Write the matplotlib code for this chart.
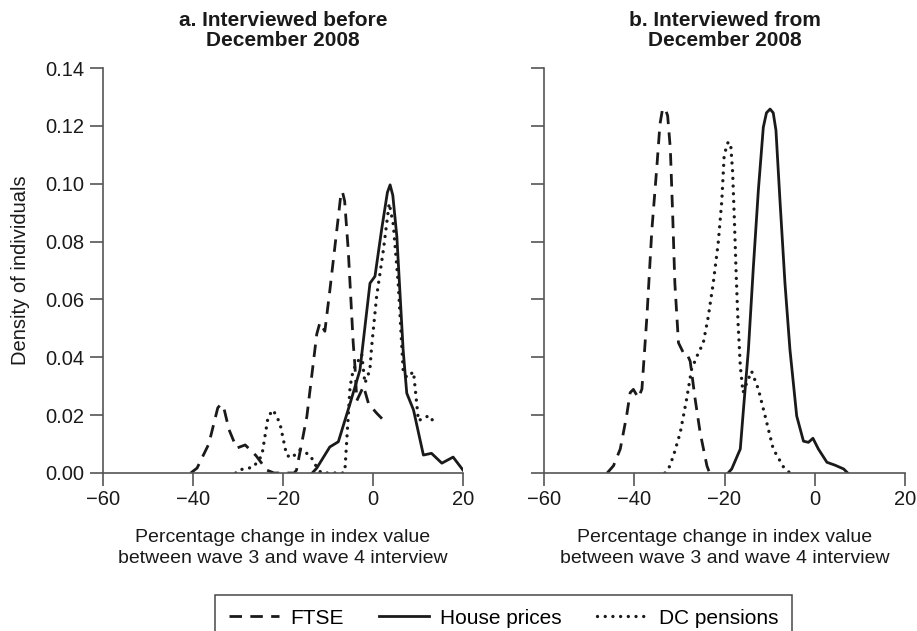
import numpy as np
import matplotlib.pyplot as plt

plt.rcParams['font.family'] = ['Liberation Sans', 'DejaVu Sans']

# ---- panel a: interviewed before December 2008
ftse_a_x = [-40.5, -39.1, -36.5, -34.5, -33.8, -33.1, -32.0, -30.3, -28.4, -26.0,
            -23.6, -22.0, -17.5, -17.0, -14.7, -12.5, -11.8, -10.7, -9.6, -7.7,
            -7.2, -6.8, -6.3, -5.5, -4.4, -4.0, -3.6, -2.1, -1.0, 0.8, 2.5]
ftse_a_y = [0.0, 0.0017, 0.010, 0.0225, 0.0238, 0.0222, 0.015, 0.0086, 0.0097, 0.006,
            0.001, 0.0, 0.0, 0.001, 0.0195, 0.048, 0.052, 0.049, 0.063, 0.0886,
            0.0955, 0.0973, 0.094, 0.077, 0.045, 0.0367, 0.025, 0.030, 0.024, 0.0207, 0.018]

house_a_x = [-13.5, -12.5, -9.6, -7.7, -5.1, -2.9, -0.67, 0.44, 1.9, 3.2,
             3.8, 4.4, 5.3, 6.7, 7.5, 9.0, 11.2, 13.0, 15.3, 17.8, 20.0]
house_a_y = [0.0, 0.0017, 0.009, 0.0108, 0.024, 0.0356, 0.0656, 0.068, 0.084, 0.097,
             0.0996, 0.096, 0.0817, 0.0425, 0.0276, 0.0218, 0.0062, 0.0068, 0.0034, 0.0055, 0.001]

dc_a_x = [-30.5, -30.0, -26.6, -24.7, -23.3, -22.2, -20.7, -19.2, -18.1, -16.2,
          -14.0, -12.5, -11.5, -6.5, -6.2, -5.1, -4.4, -2.5, -1.8, -0.7,
          -0.3, 0.8, 2.3, 3.6, 4.5, 5.6, 6.7, 7.5, 9.0, 10.1,
          11.6, 13.0, 13.4]
dc_a_y = [0.0, 0.001, 0.002, 0.006, 0.0195, 0.0218, 0.0173, 0.0062, 0.0052, 0.008,
          0.0062, 0.002, 0.0, 0.0, 0.002, 0.0298, 0.0356, 0.041, 0.031, 0.0356,
          0.0437, 0.061, 0.077, 0.0932, 0.086, 0.0656, 0.0356, 0.033, 0.035, 0.018,
          0.0195, 0.0195, 0.0166]

# ---- panel b: interviewed from December 2008
ftse_b_x = [-46.0, -44.6, -43.1, -41.7, -40.9, -40.2, -39.1, -38.3, -37.2, -36.1,
            -35.0, -34.3, -33.8, -33.2, -32.6, -32.0, -31.5, -31.0, -30.2, -29.1,
            -28.4, -27.6, -26.5, -25.4, -23.9, -23.3]
ftse_b_y = [0.0, 0.0025, 0.0083, 0.0197, 0.0278, 0.0289, 0.026, 0.029, 0.054, 0.084,
            0.1057, 0.1206, 0.1252, 0.1262, 0.1235, 0.112, 0.090, 0.0656, 0.045, 0.0415,
            0.0415, 0.0386, 0.0255, 0.014, 0.0025, 0.0]

house_b_x = [-19.2, -18.4, -16.5, -15.8, -14.7, -13.6, -12.5, -11.4, -10.7, -9.9,
             -9.2, -8.6, -7.7, -6.6, -5.5, -4.0, -2.5, -1.4, -0.4, 0.8,
             2.7, 4.5, 6.4, 7.3]
house_b_y = [0.0, 0.0014, 0.0083, 0.022, 0.0427, 0.0713, 0.0977, 0.1195, 0.1245, 0.1258,
             0.1245, 0.1185, 0.094, 0.0656, 0.0427, 0.0197, 0.011, 0.0106, 0.012, 0.0083,
             0.0037, 0.0027, 0.0014, 0.0]

dc_b_x = [-33.2, -32.4, -31.3, -29.8, -28.4, -27.3, -26.1, -24.7, -23.6, -22.5,
          -21.4, -20.6, -20.1, -19.5, -19.1, -18.6, -18.2, -17.8, -17.4, -17.0,
          -16.5, -15.9, -15.1, -14.0, -12.5, -11.0, -9.2, -6.9, -5.5]
dc_b_y = [0.0, 0.0014, 0.006, 0.014, 0.0255, 0.0358, 0.0404, 0.045, 0.054, 0.0656,
          0.0794, 0.094, 0.1090, 0.1135, 0.1145, 0.113, 0.104, 0.087, 0.068, 0.052,
          0.037, 0.0278, 0.031, 0.0352, 0.029, 0.0197, 0.0083, 0.002, 0.0]

titles = ['a. Interviewed before\nDecember 2008', 'b. Interviewed from\nDecember 2008']
xlabel = 'Percentage change in index value\nbetween wave 3 and wave 4 interview'
ylabel = 'Density of individuals'
series_names = ['FTSE', 'House prices', 'DC pensions']
xticks = [-60, -40, -20, 0, 20]
yticks = [0.00, 0.02, 0.04, 0.06, 0.08, 0.10, 0.12, 0.14]

panels = [
    [(ftse_a_x, ftse_a_y), (house_a_x, house_a_y), (dc_a_x, dc_a_y)],
    [(ftse_b_x, ftse_b_y), (house_b_x, house_b_y), (dc_b_x, dc_b_y)],
]

styles = [
    dict(linestyle=(0, (4.5, 3.0)), dash_capstyle='butt'),
    dict(linestyle='-'),
    dict(linestyle=(0, (0.01, 2.3)), dash_capstyle='round', linewidth=2.4),
]

fig = plt.figure(figsize=(9.17, 6.31), dpi=100)
ax_a = fig.add_axes([103/917, 1-473/631, 360/917, 405/631])
ax_b = fig.add_axes([544/917, 1-473/631, 361/917, 405/631])
spine_col = '#555555'
txt_col = '#1a1a1a'

lines = []
for k, ax in enumerate([ax_a, ax_b]):
    for (xs, ys), st, name in zip(panels[k], styles, series_names):
        kw = dict(color='#1a1a1a', linewidth=2.0)
        kw.update(st)
        ln, = ax.plot(xs, ys, label=name, **kw)
        if k == 0:
            lines.append(ln)
    ax.set_xlim(-60, 20)
    ax.set_ylim(0, 0.14)
    ax.set_xticks(xticks)
    ax.set_yticks(yticks)
    ax.spines['top'].set_visible(False)
    ax.spines['right'].set_visible(False)
    for s in ['left', 'bottom']:
        ax.spines[s].set_color(spine_col)
        ax.spines[s].set_linewidth(1.2)
    ax.tick_params(direction='out', length=9.5, width=1.2, color=spine_col,
                   labelsize=14.5, labelcolor=txt_col)
    ax.tick_params(axis='x', pad=3)
    ax.tick_params(axis='y', pad=4)
    ax.set_title(titles[k], fontsize=15, fontweight='bold', pad=16, color=txt_col,
                 linespacing=1.05)
    ax.set_xlabel(xlabel, fontsize=14, labelpad=14, color=txt_col, linespacing=1.3)

ax_a.set_yticklabels(['%.2f' % v for v in yticks])
ax_b.set_yticklabels([])
ax_a.set_ylabel(ylabel, fontsize=14.5, labelpad=11, color=txt_col)

leg = fig.legend(lines, series_names, loc='upper left', ncol=3,
                 bbox_to_anchor=(215/917, 1-595/631), fontsize=15,
                 frameon=True, fancybox=False, edgecolor='#1a1a1a',
                 handlelength=2.4, columnspacing=1.7, borderpad=0.65,
                 borderaxespad=0, handletextpad=0.55)
leg.get_frame().set_linewidth(1.1)

fig.savefig('out.png', dpi=100)
